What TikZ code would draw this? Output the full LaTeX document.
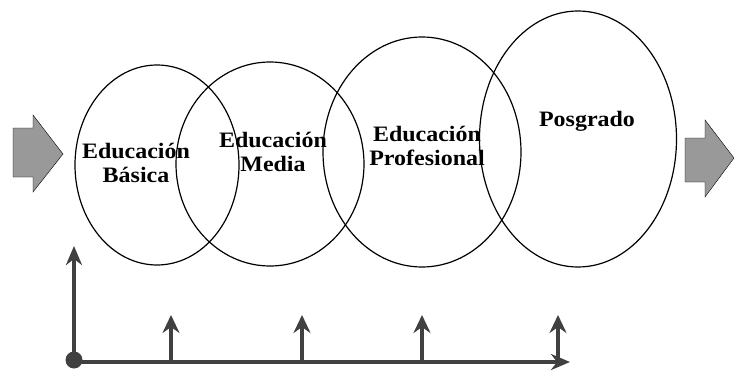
\documentclass[tikz,border=0pt]{standalone}
\usepackage{fontspec}
\setmainfont{Liberation Serif}
\newfontfamily\stagefont[FakeStretch=1.09]{Liberation Serif}
\usetikzlibrary{shapes.geometric, arrows.meta}

\begin{document}
\begin{tikzpicture}
          [
            x=1pt, y=-1pt,
            stage/.style={draw,ellipse,line width=1.2pt,inner sep=0pt},
            stagetext/.style={font=\stagefont\bfseries\fontsize{22}{24}\selectfont,align=center},
            block/.style={fill=black!40},
            axis/.style={line width=4pt,draw=black!75,-{Stealth[length=19pt,width=16pt,inset=6pt]}},
            tick/.style={line width=3.4pt,draw=black!75,-{Stealth[length=18pt,width=17pt,inset=6pt]}}
          ]
          \useasboundingbox (0,0) rectangle (734,372);
          % ellipses
          \node[stage,minimum width=164pt,minimum height=200pt] (basica) at (157,165) {};
          \node[stage,minimum width=188pt,minimum height=204pt] (media) at (270,164) {};
          \node[stage,minimum width=198pt,minimum height=230pt] (profesional) at (422,152) {};
          \node[stage,minimum width=197pt,minimum height=256pt] (posgrado) at (578,139) {};
          % texts
          \node[stagetext] (tbasica) at (136,163) {Educación\\Básica};
          \node[stagetext] (tmedia) at (273,152) {Educación\\Media};
          \node[stagetext] (tprofesional) at (427,146) {Educación\\Profesional};
          \node[stagetext,anchor=base] (tposgrado) at (587,126) {Posgrado};
          % grey arrows in and out
          \draw[block] (13,128) -- (33,128) -- (33,115) -- (63,154) -- (33,192) -- (33,177) -- (13,177) -- cycle;
          \draw[block] (685,138) -- (705,138) -- (705,120) -- (734,158) -- (705,197) -- (705,182) -- (685,182) -- cycle;
          % axes
          \node[circle,fill=black!75,minimum size=17pt,inner sep=0pt] (origin) at (74,360) {};
          \coordinate (yend) at (74,246);
          \coordinate (xend) at (570,362);
          \draw[axis] (origin.center) -- (yend);
          \draw[axis] (origin.center) |- (xend);
          \foreach \x [count=\i] in {171,302,422,558} {
              \coordinate (tick\i) at (\x,362);
              \draw[tick] (tick\i) -- ++(0,-47);
          }
        \end{tikzpicture}
\end{document}
